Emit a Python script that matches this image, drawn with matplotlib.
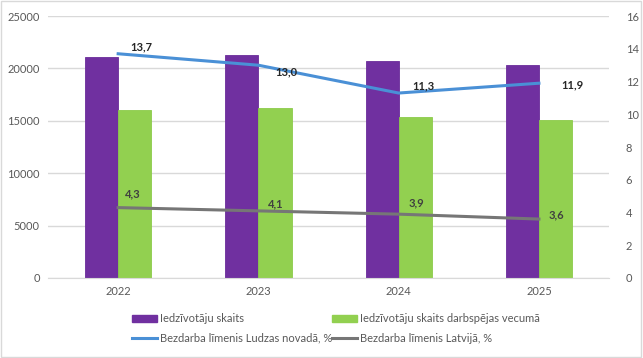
import matplotlib
matplotlib.use("Agg")
import matplotlib.pyplot as plt
import numpy as np
from matplotlib.patches import Rectangle
from matplotlib.lines import Line2D
from matplotlib.patches import Patch

years = ["2022", "2023", "2024", "2025"]
population = [21100, 21300, 20700, 20300]
working_age = [16000, 16200, 15400, 15100]
unemp_ludza = [13.7, 13.0, 11.3, 11.9]
unemp_latvia = [4.3, 4.1, 3.9, 3.6]

c_purple = "#7030A0"
c_green = "#92D050"
c_blue = "#4A90D6"
c_gray = "#767676"
txt = "#595959"

plt.rcParams['font.family'] = ['Lato', 'DejaVu Sans']
fig = plt.figure(figsize=(6.43, 3.58), dpi=100)
ax = fig.add_axes([0.0747, 0.2235, 0.8725, 0.7315])
x = np.arange(len(years))
w = 0.236
ax.bar(x - w/2, population, w, color=c_purple, edgecolor="#6A2C9A", linewidth=0.6, zorder=2)
ax.bar(x + w/2, working_age, w, color=c_green, edgecolor="#8CCB4A", linewidth=0.6, zorder=2)
ax.set_xlim(-0.5, 3.5)
ax.set_ylim(0, 25000)
ax.set_yticks(range(0, 25001, 5000))
ax.set_xticks(x)
ax.set_xticklabels(years)
ax.grid(axis='y', color="#D9D9D9", linewidth=1, zorder=0)
ax.set_axisbelow(True)
for s in ["top", "left", "right"]:
    ax.spines[s].set_visible(False)
ax.spines["bottom"].set_color("#D9D9D9")
ax.tick_params(axis='both', length=0, labelsize=8, colors=txt, pad=6)

ax2 = ax.twinx()
ax2.set_ylim(0, 16)
ax2.set_yticks(range(0, 17, 2))
for s in ["top", "left", "right", "bottom"]:
    ax2.spines[s].set_visible(False)
ax2.tick_params(axis='y', length=0, labelsize=8, colors=txt, pad=12)
ax2.plot(x, unemp_ludza, color=c_blue, linewidth=2.2, zorder=3)
ax2.plot(x, unemp_latvia, color=c_gray, linewidth=2.2, zorder=3)

offs_b = [(9, 5), (12, -5), (10, 5), (16, -1)]
for xi, v, o in zip(x, unemp_ludza, offs_b):
    ax2.annotate(f"{v:.1f}".replace(".", ","), (xi, v), xytext=o, textcoords="offset points",
                 fontsize=8, fontweight="bold", color="#262626", va="center", ha="left")
offs_g = [(5, 10), (7, 5), (7, 8), (7, 3)]
for xi, v, o in zip(x, unemp_latvia, offs_g):
    ax2.annotate(f"{v:.1f}".replace(".", ","), (xi, v), xytext=o, textcoords="offset points",
                 fontsize=8, fontweight="bold", color="#404040", va="center", ha="left")

handles = [Patch(color=c_purple), Line2D([], [], color=c_blue, linewidth=2.2),
           Patch(color=c_green), Line2D([], [], color=c_gray, linewidth=2.2)]
labels = ["Iedzīvotāju skaits", "Bezdarba līmenis Ludzas novadā, %",
          "Iedzīvotāju skaits darbspējas vecumā", "Bezdarba līmenis Latvijā, %"]
fig.legend(handles, labels, ncol=2, loc="upper left", bbox_to_anchor=(0.197, 0.14),
           frameon=False, fontsize=8, labelcolor=txt, handlelength=2.2, handleheight=0.5,
           handletextpad=0.3, columnspacing=0.0, labelspacing=0.75, borderpad=0)

fig.add_artist(Rectangle((0.002, 0.003), 0.995, 0.994, transform=fig.transFigure,
                         fill=False, edgecolor="#D9D9D9", linewidth=1))
fig.savefig("out.png", dpi=100)
